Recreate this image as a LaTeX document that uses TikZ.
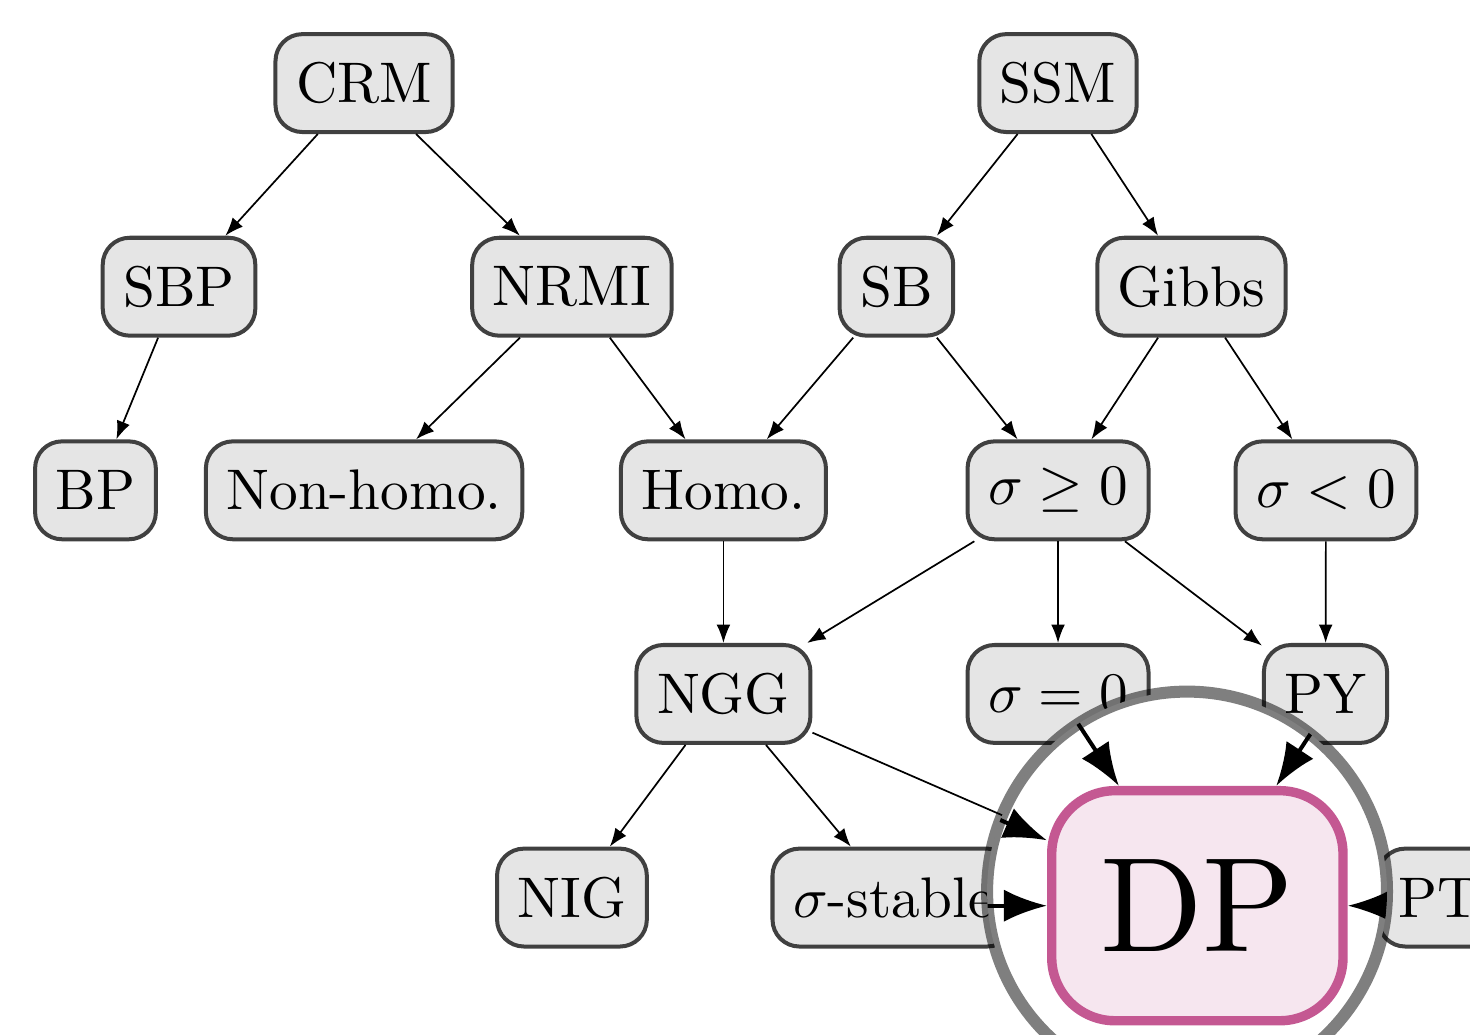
\documentclass[tikz,border=0pt]{standalone}
\usepackage{amsmath,amssymb}
\usepackage{tikz}
\usetikzlibrary{arrows.meta}
\usepackage{xcolor}
\definecolor{dprim}{RGB}{196,88,146}

\newcommand{\drawmodels}{%
% top row
\node[model] (crm) at (2.235,5) {CRM};
\node[model] (ssm) at (6.495,5) {SSM};

\node[model] (sbp) at (1.099,3.75) {SBP};
\node[model] (nrmi) at (3.511,3.75) {NRMI};
\node[model] (sb) at (5.503,3.75) {SB};
\node[model] (gibbs) at (7.314,3.75) {Gibbs};

\node[model] (bp) at (0.586,2.5) {BP};
\node[model] (nonhomo) at (2.235,2.5) {Non-homo.};
\node[model] (homo) at (4.441,2.5) {Homo.};
\node[model] (sgeq) at (6.495,2.5) {$\sigma\geq 0$};
\node[model] (sneg) at (8.140,2.5) {$\sigma<0$};

\node[model] (ngg) at (4.441,1.25) {NGG};
\node[model] (szero) at (6.495,1.25) {$\sigma=0$};
\node[model] (py) at (8.137,1.25) {PY};

% bottom row
\node[model] (nig) at (3.511,0) {NIG};
\node[model] (stable) at (5.484,0) {$\sigma$-stable};
\node[dpmodel] (dp) at (7.314,0) {DP};
\node[model] (pt) at (8.834,0) {PT};

\draw[link] (crm)--(sbp);
\draw[link] (crm)--(nrmi);
\draw[link] (sbp)--(bp);
\draw[link] (nrmi)--(nonhomo);
\draw[link] (nrmi)--(homo);
\draw[link] (ssm)--(sb);
\draw[link] (ssm)--(gibbs);
\draw[link] (sb)--(homo);
\draw[link] (sb)--(sgeq);
\draw[link] (gibbs)--(sgeq);
\draw[link] (gibbs)--(sneg);
\draw[link] (homo)--(ngg);
\draw[link] (sgeq)--(ngg);
\draw[link] (sgeq)--(szero);
\draw[link] (sgeq)--(py);
\draw[link] (sneg)--(py);
\draw[link] (ngg)--(nig);
\draw[link] (ngg)--(stable);
\draw[link] (ngg)--(dp);
\draw[link] (szero)--(dp);
\draw[link] (py)--(dp);
\draw[link] (stable)--(dp);
\draw[link] (pt)--(dp);
}

\begin{document}
\begin{tikzpicture}[
  model/.style={draw=black!75,fill=black!10,line width=0.7pt,rounded corners=4.7pt,inner xsep=3.6pt,minimum height=17.1pt},
  dpmodel/.style={model,draw=dprim,fill=dprim!15},
  link/.style={black,line width=0.3pt,-{Latex[length=3.2pt,width=2.4pt]}},
  magring/.style={draw=black,draw opacity=0.5,line width=2.1pt}]
\useasboundingbox (0,-0.841) rectangle (9.024,5.51);

\drawmodels

% magnifier round DP
\coordinate (lensc) at (7.287,0.037);
\fill[white] (lensc) circle (1.2275);
\begin{scope}
\clip (lensc) circle (1.2275);
\begin{scope}[transform canvas={shift={(7.287,0.037)},scale=2.35,shift={(-7.287,-0.037)}}]
\drawmodels
\end{scope}
\end{scope}
\draw[magring] (lensc) circle (1.2275);
\end{tikzpicture}
\end{document}
